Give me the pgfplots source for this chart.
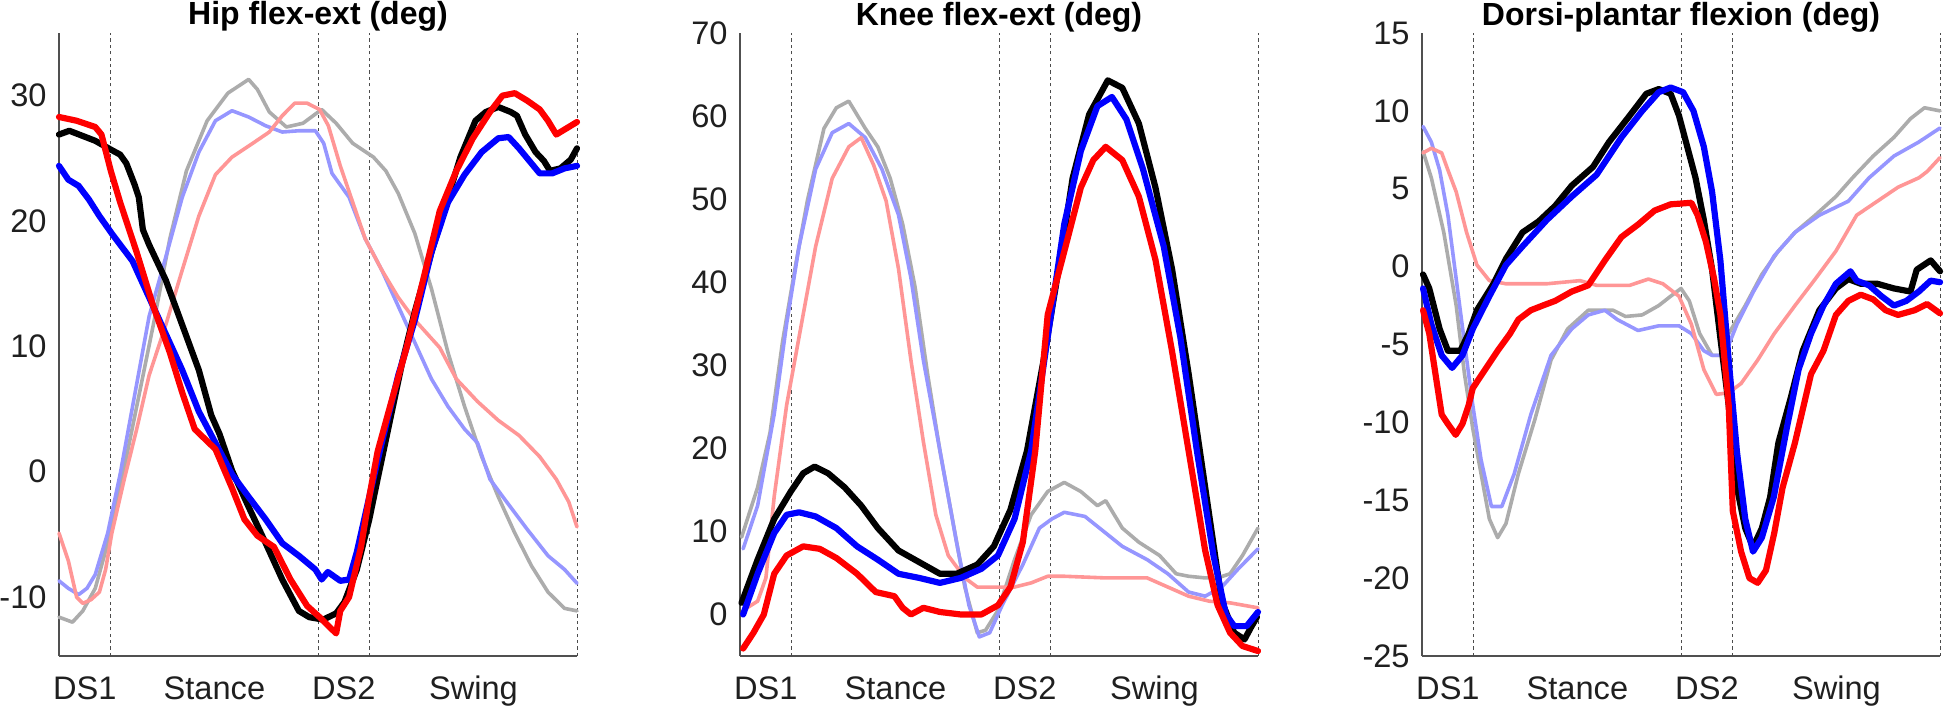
\documentclass[border=0pt]{standalone}
\usepackage{pgfplots}
\pgfplotsset{compat=1.18}
\usepackage{fontspec}
\setmainfont{Liberation Sans}
\definecolor{lgray}{RGB}{172,172,172}
\definecolor{lblue}{RGB}{150,150,255}
\definecolor{lred}{RGB}{255,150,150}
\definecolor{pblue}{RGB}{0,0,255}
\definecolor{pred}{RGB}{255,0,0}
\definecolor{axgray}{RGB}{80,80,80}
\tikzset{
  phase/.style={draw=black!70, line width=0.5pt, dash pattern=on 1.6pt off 1.6pt},
  thin line/.style={line width=1.8pt, line join=round, line cap=round},
  thick line/.style={line width=3.1pt, line join=round, line cap=round},
}
\pgfplotsset{
  gait/.style={
    scale only axis, width=259pt, height=311.5pt,
    anchor=south west,
    axis x line=bottom, axis y line=left,
    axis line style={-, draw=axgray, line width=0.8pt},
    xmin=0, xmax=100,
    xtick={5,30,55,80}, xticklabels={DS1,Stance,DS2,Swing},
    major tick length=0pt,
    tick label style={font=\fontsize{16.3}{19}\selectfont, text=black!88},
    xticklabel style={anchor=base, yshift=-21.5pt},
    yticklabel style={anchor=east, inner sep=0pt, xshift=-6pt},
    /pgf/number format/assume math mode=true,
    title style={anchor=base, yshift=-2pt, font=\bfseries\fontsize{16}{19}\selectfont},
    clip=false,
  },
}
\begin{document}
\begin{tikzpicture}
\useasboundingbox (0,0) rectangle (973pt,354.5pt);
% ---------------- Panel 1: Hip ----------------
\begin{axis}[gait, at={(29.5pt,26.5pt)}, ymin=-14.7, ymax=35, ytick={-10,0,10,20,30},
  title={Hip flex-ext (deg)}]
\draw[phase] (axis cs:10,-14.7) -- (axis cs:10,35);
\draw[phase] (axis cs:50,-14.7) -- (axis cs:50,35);
\draw[phase] (axis cs:60,-14.7) -- (axis cs:60,35);
\draw[phase] (axis cs:100,-14.7) -- (axis cs:100,35);
\addplot[thin line, lgray] coordinates {(0,-11.6)(2.6,-12.0)(4.6,-11.1)(7,-9.3)(9.4,-5.7)(11.8,-1.3)(15,5.2)(18.2,11.7)(21.4,18.6)(24.6,24.0)(28.6,28.0)(32.6,30.2)(36.6,31.3)(38.3,30.5)(40.6,28.7)(43.9,27.5)(47.1,27.8)(50.7,28.9)(53.5,27.8)(56.7,26.2)(60.7,25.1)(63.1,24.0)(65.5,22.2)(68.7,19.0)(71.9,14.6)(75.1,9.5)(78.3,5.2)(81.6,1.2)(84.8,-2.0)(88,-4.9)(91.2,-7.5)(94.4,-9.6)(97.6,-10.9)(100,-11.1)};
\addplot[thin line, lblue] coordinates {(0,-8.7)(1.8,-9.3)(3.8,-9.8)(5.4,-9.3)(7,-8.2)(9.4,-4.9)(11.8,-0.2)(14.2,5.2)(17.4,12.4)(20.6,17.1)(23.8,21.9)(27,25.5)(30.2,28.0)(33.4,28.8)(36.6,28.3)(39.9,27.6)(43.1,27.1)(46.3,27.2)(49.5,27.2)(51.1,26.2)(52.7,23.8)(56,21.9)(59.1,18.6)(62.3,16.1)(65.5,13.2)(68.7,10.3)(71.9,7.4)(75.1,5.2)(78.3,3.4)(80.8,2.3)(83.2,-0.6)(86.4,-2.4)(90.4,-4.6)(94.4,-6.7)(97.6,-7.8)(100,-8.9)};
\addplot[thin line, lred] coordinates {(0,-4.9)(1.8,-7.1)(3.4,-10.0)(4.6,-10.5)(6.2,-10.2)(7.8,-9.6)(9,-7.8)(10.2,-4.9)(12.6,-0.6)(15,3.4)(17.4,7.7)(20.6,11.7)(23.8,16.1)(27,20.4)(30.2,23.7)(33.4,25.1)(37.4,26.2)(40.6,27.1)(43.1,28.4)(45.5,29.4)(47.9,29.4)(50.3,28.9)(52,27.6)(54.3,24.4)(56.7,21.5)(59.1,18.6)(62.3,16.1)(65.5,13.9)(68.7,12.1)(73.5,9.9)(76.7,7.4)(80.8,5.6)(84.8,4.1)(88.8,2.9)(92.8,1.2)(96,-0.6)(98.4,-2.4)(100,-4.4)};
\addplot[thick line, black] coordinates {(0,26.9)(2,27.2)(7,26.4)(10,25.7)(11.8,25.3)(13,24.6)(14.6,22.9)(15.4,21.9)(16.2,19.3)(17.4,18.1)(20.6,15.3)(23.8,11.7)(27,8.1)(29.4,4.5)(31,3.0)(33.4,0.1)(36.6,-2.8)(39.9,-5.7)(43.1,-8.6)(46.3,-11.1)(48.3,-11.6)(51,-11.8)(53.5,-11.3)(55.1,-10.4)(57.5,-7.8)(59.9,-3.8)(61.5,-0.6)(63.9,4.1)(66.3,8.8)(68.7,12.8)(71.9,17.5)(75.1,21.9)(77.5,25.1)(80.4,28.0)(82.4,28.7)(84.8,29.1)(87.2,28.7)(88.4,28.4)(90,26.9)(92,25.5)(93.6,24.8)(94.8,24.0)(96.8,24.2)(98.8,24.9)(100,25.8)};
\addplot[thick line, pblue] coordinates {(0,24.4)(1.8,23.3)(3.8,22.8)(5.8,21.7)(7.8,20.4)(10.2,19.0)(14.2,16.8)(17.4,13.9)(20.6,11.0)(23.8,8.1)(27,4.8)(30.2,2.3)(33.4,-0.2)(36.6,-2.0)(39.9,-3.8)(43.1,-5.7)(46.3,-6.7)(49.5,-7.8)(50.7,-8.6)(51.9,-8.0)(54.3,-8.7)(56,-8.6)(57.5,-6.4)(59.9,-2.0)(62.3,2.3)(65.5,7.7)(68.7,12.1)(71.9,17.5)(75.1,21.5)(78.3,23.7)(81.6,25.5)(84.8,26.6)(86.8,26.7)(88.8,25.8)(90.8,24.8)(92.8,23.8)(95.2,23.8)(97.6,24.2)(100,24.4)};
\addplot[thick line, pred] coordinates {(0,28.3)(3.4,28.0)(7,27.5)(8.2,26.9)(10,24.0)(11.8,21.5)(15,17.5)(18.2,13.2)(21.4,9.5)(23.8,6.3)(26.2,3.4)(30.2,1.8)(33.4,-1.3)(35.8,-3.8)(38.3,-5.1)(41.5,-6.0)(44.7,-8.6)(47.9,-10.7)(50.3,-11.6)(53.5,-12.9)(54.3,-11.1)(56,-10.0)(58.3,-6.0)(59.9,-2.0)(61.5,1.6)(63.9,5.2)(67.1,9.9)(70.3,15.3)(73.5,20.8)(76.7,24.0)(79.9,26.6)(83.2,28.7)(85.6,30.0)(88,30.2)(90.4,29.6)(92.8,28.9)(94.4,28.0)(96,26.9)(98.4,27.5)(100,27.9)};
\end{axis}
% ---------------- Panel 2: Knee ----------------
\begin{axis}[gait, at={(370pt,26.5pt)}, ymin=-5, ymax=70, ytick={0,10,...,70},
  title={Knee flex-ext (deg)}]
\draw[phase] (axis cs:10,-5) -- (axis cs:10,70);
\draw[phase] (axis cs:50,-5) -- (axis cs:50,70);
\draw[phase] (axis cs:60,-5) -- (axis cs:60,70);
\draw[phase] (axis cs:100,-5) -- (axis cs:100,70);
\addplot[thin line, lgray] coordinates {(0.3,9.3)(3.4,15.3)(5.8,21.9)(8.2,32.8)(10.6,41.6)(13,49.8)(16.2,58.5)(18.6,61.0)(21,61.8)(24.2,58.5)(26.6,56.3)(29,52.5)(31.4,47.0)(33.8,39.4)(36.2,29.0)(38.6,19.7)(41,11.5)(43.4,3.3)(45.8,-2.2)(47.4,-1.9)(49.8,0.5)(53,6.6)(56.2,12.0)(59.4,14.8)(62.6,15.9)(65.8,14.8)(69,13.1)(70.6,13.7)(73.8,10.4)(77,8.7)(81,7.1)(84.2,4.9)(86.6,4.6)(89.8,4.4)(92.2,4.4)(94.6,4.9)(97,7.1)(100,10.4)};
\addplot[thin line, lblue] coordinates {(0.6,7.9)(3.4,13.1)(6.6,24.1)(9,35.0)(11.4,44.3)(14.6,53.6)(17.8,58.0)(21,59.1)(24.2,57.4)(27.4,53.6)(30.6,48.1)(33,40.5)(35.4,30.6)(38.6,19.7)(41.8,8.7)(44.2,1.1)(46.2,-2.7)(48.2,-2.2)(50.6,1.1)(54.6,6.0)(57.8,10.4)(60.2,11.5)(62.6,12.3)(66.6,11.8)(70.6,9.8)(73.8,8.2)(78.6,6.6)(82.6,4.9)(86.6,2.7)(89.8,2.2)(93,3.3)(96.2,5.5)(100,7.9)};
\addplot[thin line, lred] coordinates {(0.6,0.5)(3.4,1.6)(5,4.4)(6.6,14.2)(9,25.2)(11.4,33.4)(14.6,44.3)(17.8,52.5)(21,56.3)(23.4,57.4)(25.8,54.1)(28.2,49.8)(30.6,41.6)(33,30.6)(35.4,20.8)(37.8,12.0)(40.2,7.1)(43.4,4.4)(45.8,3.3)(49.8,3.3)(53,3.3)(56.2,3.8)(59.4,4.6)(62.6,4.6)(70.6,4.4)(78.6,4.4)(82.6,3.3)(86.6,2.2)(90.6,1.6)(94.6,1.4)(100,0.8)};
\addplot[thick line, black] coordinates {(0.3,1.4)(3.4,6.6)(6.6,11.5)(9.8,14.8)(12.2,17.0)(14.4,17.8)(17,17.0)(20.2,15.3)(23.4,13.1)(26.6,10.4)(30.6,7.7)(34.6,6.3)(38.6,4.9)(41.8,4.9)(45.8,6.0)(49,8.2)(52.2,12.6)(55.4,19.7)(58.6,30.6)(61.8,42.7)(64.2,52.5)(67.4,60.2)(71,64.3)(73.8,63.4)(77,59.1)(80.2,51.4)(83.4,41.6)(86.6,29.0)(89.8,15.3)(93,1.6)(95.4,-2.2)(97.4,-3.0)(98.6,-1.6)(99.8,-0.3)};
\addplot[thick line, pblue] coordinates {(0.6,0)(3.4,4.9)(6.6,9.8)(9,12.0)(11.4,12.3)(14.6,11.8)(18.6,10.4)(22.6,8.2)(26.6,6.6)(30.6,4.9)(34.6,4.4)(38.6,3.8)(42.6,4.4)(46.6,5.5)(49.8,7.1)(53,11.5)(56.2,19.7)(59.4,33.4)(62.6,47.0)(65.8,55.8)(69,61.2)(71.8,62.3)(74.6,59.6)(77.8,53.6)(81.8,44.3)(85,33.4)(88.2,19.7)(91.4,7.1)(93.8,0)(95.4,-1.4)(97.8,-1.4)(100,0.3)};
\addplot[thick line, pred] coordinates {(0.6,-4.1)(2.6,-2.2)(4.6,0)(6.6,4.9)(9,7.1)(12.2,8.2)(15.4,7.9)(18.6,6.8)(22.6,4.9)(26.2,2.7)(29.8,2.2)(31.4,0.8)(33,0)(35.4,0.8)(38.6,0.3)(42.6,0)(46.6,0)(49.8,1.1)(52.2,3.3)(54.6,8.7)(57,19.7)(59.4,36.1)(62.6,43.7)(65.8,51.4)(68.2,54.7)(70.6,56.3)(73.8,54.7)(77,50.3)(80.2,42.7)(83.4,31.7)(86.6,19.7)(89.8,7.7)(92.2,1.1)(94.6,-2.2)(97,-3.8)(100,-4.4)};
\end{axis}
% ---------------- Panel 3: Ankle ----------------
\begin{axis}[gait, at={(711pt,26.5pt)}, ymin=-25, ymax=15, ytick={-25,-20,...,15},
  title={Dorsi-plantar flexion (deg)}]
\draw[phase] (axis cs:10,-25) -- (axis cs:10,15);
\draw[phase] (axis cs:50,-25) -- (axis cs:50,15);
\draw[phase] (axis cs:60,-25) -- (axis cs:60,15);
\draw[phase] (axis cs:100,-25) -- (axis cs:100,15);
\addplot[thin line, lgray] coordinates {(0.2,7.4)(1.8,5.7)(4.2,2.2)(6.6,-2.5)(8.2,-6.9)(9.8,-10.4)(11.4,-13.3)(13,-16.2)(14.6,-17.4)(16.2,-16.5)(18.6,-13.3)(21.8,-9.8)(24.9,-6.0)(28.1,-4.0)(32.1,-2.8)(36.9,-2.8)(39.3,-3.2)(42.5,-3.1)(45.7,-2.5)(48,-1.9)(50,-1.4)(51.6,-2.2)(53.6,-4.3)(56,-5.7)(57.6,-5.7)(59.2,-4.3)(62.4,-2.5)(65.6,-0.5)(68.8,1.0)(72,2.2)(75.9,3.3)(79.9,4.5)(83.1,5.7)(87.1,7.1)(91.1,8.3)(94.3,9.5)(97,10.2)(100,10.0)};
\addplot[thin line, lblue] coordinates {(0.2,9.0)(1.8,8.0)(3.4,6.2)(5,3.3)(6.6,-0.8)(8.2,-4.9)(9.8,-8.9)(11.4,-12.4)(13.4,-15.4)(15.4,-15.4)(17.8,-13.3)(21,-9.5)(24.9,-5.7)(28.9,-4.0)(32.1,-3.1)(35.3,-2.8)(37.7,-3.4)(41.7,-4.1)(45.7,-3.8)(49.6,-3.8)(52,-4.3)(54.4,-5.4)(56,-5.7)(58.4,-5.7)(60.8,-3.7)(64,-1.6)(68,0.7)(72,2.2)(76.7,3.3)(82.3,4.2)(86.3,5.7)(91.1,7.1)(95.9,8.0)(100,8.9)};
\addplot[thin line, lred] coordinates {(0.2,7.3)(1.8,7.6)(3.8,7.3)(5,6.2)(6.6,4.8)(8.6,2.2)(10.6,0.1)(13,-0.9)(16.2,-1.1)(24.1,-1.1)(30.5,-0.9)(33.7,-1.2)(40.1,-1.2)(43.7,-0.8)(46.5,-1.1)(49.6,-1.9)(52,-3.7)(54.4,-6.6)(56.8,-8.2)(59.2,-8.1)(61.6,-7.5)(64.8,-6.0)(68,-4.3)(72,-2.5)(75.9,-0.8)(79.9,1.0)(83.9,3.3)(87.9,4.2)(91.9,5.1)(95.9,5.7)(97.5,6.1)(100,7.0)};
\addplot[thick line, black] coordinates {(0.2,-0.5)(1.4,-1.4)(3.4,-4.0)(5,-5.4)(7.4,-5.4)(9,-4.3)(10.6,-2.8)(13.8,-1.1)(16.2,0.5)(19.4,2.2)(22.5,2.9)(25.7,3.9)(28.9,5.2)(33,6.4)(36.1,8.0)(40.1,9.7)(43.3,11.1)(45.7,11.4)(48,11.1)(49.6,9.7)(51.2,7.7)(52.8,5.7)(54.4,3.0)(56,-0.2)(57.6,-4.6)(59.2,-8.9)(60.8,-14.2)(62.4,-16.8)(63.9,-18.0)(65.6,-16.8)(67.2,-14.8)(68.8,-11.3)(71.2,-8.4)(73.5,-5.4)(76.7,-2.8)(79.9,-1.4)(82.3,-0.8)(84.7,-1.1)(87.9,-1.1)(91.1,-1.4)(94.3,-1.6)(95.5,-0.2)(98.2,0.4)(100,-0.3)};
\addplot[thick line, pblue] coordinates {(0.2,-1.4)(1.8,-3.7)(3.8,-5.7)(5.8,-6.5)(7.8,-5.7)(9.8,-4.0)(13,-1.9)(16.2,0.1)(19.4,1.3)(24.1,3.0)(28.9,4.5)(33.7,5.9)(38.5,8.3)(42.5,10.0)(45.7,11.2)(48,11.5)(50.4,11.2)(52.4,10.0)(54.4,7.7)(56,4.8)(57.6,0.4)(59.2,-6.0)(60.8,-11.9)(62.4,-16.2)(63.9,-18.3)(65.6,-17.4)(67.9,-14.8)(70.4,-10.4)(72.7,-6.6)(75.1,-4.3)(77.5,-2.5)(79.9,-1.1)(82.7,-0.3)(83.9,-0.9)(86.3,-1.2)(88.7,-1.9)(91.1,-2.5)(93.5,-2.2)(95.9,-1.6)(98.2,-0.9)(100,-1.0)};
\addplot[thick line, pred] coordinates {(0.2,-2.8)(1.4,-4.3)(2.6,-6.9)(3.8,-9.5)(5,-10.1)(6.5,-10.8)(7.8,-10.1)(9,-8.9)(9.8,-7.8)(12.2,-6.6)(14.6,-5.4)(17,-4.3)(18.6,-3.4)(21,-2.8)(23.3,-2.5)(25.7,-2.2)(28.9,-1.6)(32.1,-1.2)(35.3,0.4)(38.5,1.9)(41.7,2.7)(44.9,3.6)(48,4.0)(52,4.1)(53.2,3.3)(54.8,1.6)(56.4,-0.8)(57.6,-3.1)(59.2,-8.9)(60,-15.7)(61.6,-18.3)(63.2,-20.0)(64.8,-20.3)(66.4,-19.5)(68,-17.1)(69.6,-14.2)(72,-11.3)(75.1,-6.9)(77.5,-5.4)(79.9,-3.1)(82.3,-2.2)(84.7,-1.8)(87.1,-2.1)(89.5,-2.8)(91.9,-3.1)(95.1,-2.8)(97.5,-2.4)(100,-3.0)};
\end{axis}
\end{tikzpicture}
\end{document}
